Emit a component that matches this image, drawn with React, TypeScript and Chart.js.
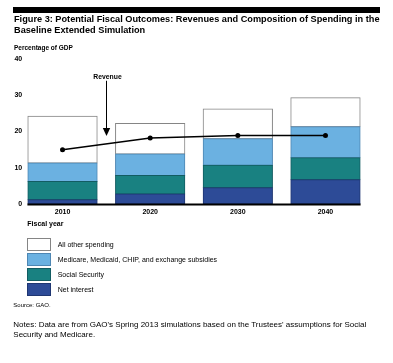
import React, { useEffect, useRef } from "react";
import { Chart, registerables } from "chart.js";

Chart.register(...registerables);

const YEARS = ["2010", "2020", "2030", "2040"];
const NET_INTEREST = [1.2, 2.8, 4.5, 6.7];
const SOCIAL_SECURITY = [5.0, 5.1, 6.2, 6.1];
const HEALTH = [5.1, 5.9, 7.3, 8.5];
const ALL_OTHER = [12.9, 8.4, 8.2, 8.0];
const REVENUE = [15.0, 18.2, 18.9, 18.9];
const Y_TICKS = [0, 10, 20, 30, 40];
const ARROW_FROM = 34;
const ARROW_TO = 18.8;

const C_OTHER = "#ffffff";
const C_HEALTH = "#6bb1e1";
const C_SS = "#198181";
const C_NET = "#2d4b97";
const B_OTHER = "#858585";
const B_HEALTH = "#4d86b3";
const B_SS = "#125c62";
const B_NET = "#1f3672";

const LEGEND = [
  { label: "All other spending", fill: C_OTHER, border: B_OTHER },
  { label: "Medicare, Medicaid, CHIP, and exchange subsidies", fill: C_HEALTH, border: B_HEALTH },
  { label: "Social Security", fill: C_SS, border: B_SS },
  { label: "Net interest", fill: C_NET, border: B_NET },
];

const FONT = '"Liberation Sans", Arial, Helvetica, sans-serif';

function T(props: { x: number; capTop: number; size: number; bold?: boolean; center?: boolean; children: any }) {
  const { x, capTop, size, bold, center, children } = props;
  const lh = size * 1.15;
  const top = capTop - ((lh - 1.117 * size) / 2 + (0.905 - 0.716) * size);
  return (
    <div
      style={{
        position: "absolute",
        left: x,
        top,
        fontSize: size,
        lineHeight: lh + "px",
        fontWeight: bold ? 700 : 400,
        whiteSpace: "nowrap",
        transform: center ? "translateX(-50%)" : undefined,
        fontFamily: FONT,
        color: "#000",
      }}
    >
      {children}
    </div>
  );
}

const extras = {
  id: "extras",
  afterDatasetsDraw(chart: any) {
    const ctx = chart.ctx;
    const y = chart.scales.y;
    const meta = chart.getDatasetMeta(1);
    const bars = meta.data;
    const first = bars[0];
    const last = bars[bars.length - 1];
    const y0 = y.getPixelForValue(0);
    ctx.save();
    // baseline
    ctx.strokeStyle = "#000";
    ctx.lineWidth = 2;
    ctx.beginPath();
    ctx.moveTo(first.x - first.width / 2 - 0.5, y0 + 0.5);
    ctx.lineTo(last.x + last.width / 2 + 0.5, y0 + 0.5);
    ctx.stroke();
    // y tick labels
    ctx.fillStyle = "#000";
    ctx.font = `bold 7px ${FONT}`;
    ctx.textAlign = "right";
    ctx.textBaseline = "middle";
    const lx = chart.chartArea.left + 3.5;
    Y_TICKS.forEach((v) => ctx.fillText(String(v), lx, y.getPixelForValue(v)));
    // revenue arrow
    const ax = Math.round((bars[0].x + bars[1].x) / 2) + 0.5;
    const ya = y.getPixelForValue(ARROW_FROM);
    const yb = y.getPixelForValue(ARROW_TO);
    ctx.lineWidth = 1;
    ctx.beginPath();
    ctx.moveTo(ax, ya);
    ctx.lineTo(ax, yb - 6);
    ctx.stroke();
    ctx.beginPath();
    ctx.moveTo(ax - 3.7, yb - 8);
    ctx.lineTo(ax + 3.7, yb - 8);
    ctx.lineTo(ax, yb);
    ctx.closePath();
    ctx.fill();
    ctx.restore();
  },
};

function ChartBox() {
  const ref = useRef<HTMLCanvasElement | null>(null);
  useEffect(() => {
    if (!ref.current) return;
    const barDs = (label: string, data: number[], fill: string, border: string) => ({
      type: "bar" as const,
      label,
      data,
      backgroundColor: fill,
      borderColor: border,
      borderWidth: 1,
      borderSkipped: false,
      inflateAmount: 0.5,
      stack: "spend",
      order: 1,
      barPercentage: 0.79,
      categoryPercentage: 1,
    });
    const chart = new Chart(ref.current, {
      type: "bar",
      data: {
        labels: YEARS,
        datasets: [
          {
            type: "line",
            label: "Revenue",
            data: REVENUE,
            borderColor: "#000",
            backgroundColor: "#000",
            borderWidth: 1.5,
            pointRadius: 2.5,
            pointBackgroundColor: "#000",
            pointBorderWidth: 0,
            tension: 0,
            stack: "rev",
            order: 0,
          } as any,
          barDs("Net interest", NET_INTEREST, C_NET, B_NET),
          barDs("Social Security", SOCIAL_SECURITY, C_SS, B_SS),
          barDs("Medicare, Medicaid, CHIP, and exchange subsidies", HEALTH, C_HEALTH, B_HEALTH),
          barDs("All other spending", ALL_OTHER, C_OTHER, B_OTHER),
        ],
      },
      options: {
        responsive: false,
        animation: false,
        layout: { padding: { left: 18.7, right: 23.7, top: 59, bottom: 142.5 } },
        plugins: { legend: { display: false }, tooltip: { enabled: false }, title: { display: false } },
        scales: {
          x: {
            stacked: true,
            grid: { display: false, drawTicks: false },
            border: { display: false },
            ticks: { font: { family: FONT, size: 7, weight: "bold" }, color: "#000", padding: 4 },
          },
          y: { display: false, stacked: true, min: 0, max: 40 },
        },
      },
      plugins: [extras],
    });
    return () => chart.destroy();
  }, []);
  return (
    <canvas
      ref={ref}
      width={393}
      height={363}
      style={{ position: "absolute", left: 0, top: 0, width: 393, height: 363 }}
    />
  );
}

export default function App() {
  return (
    <div
      style={{
        position: "absolute",
        left: 0,
        top: 0,
        width: 393,
        height: 363,
        background: "#fff",
        overflow: "hidden",
        fontFamily: FONT,
      }}
    >
      <ChartBox />
      <div style={{ position: "absolute", left: 13, top: 7, width: 367, height: 6, background: "#000" }} />
      <T x={14} capTop={15.7} size={9.2} bold>
        Figure 3: Potential Fiscal Outcomes: Revenues and Composition of Spending in the
      </T>
      <T x={14} capTop={26.9} size={9.2} bold>
        Baseline Extended Simulation
      </T>
      <T x={14} capTop={45.3} size={6.5} bold>
        Percentage of GDP
      </T>
      <T x={107.5} capTop={74.3} size={6.8} bold center>
        Revenue
      </T>
      <T x={27.3} capTop={221.5} size={7} bold>
        Fiscal year
      </T>
      {LEGEND.map((item, i) => {
        const cy = 244.5 + i * 15.15;
        return (
          <React.Fragment key={item.label}>
            <div
              style={{
                position: "absolute",
                left: 27,
                top: cy - 6.5,
                width: 24,
                height: 13,
                boxSizing: "border-box",
                background: item.fill,
                border: `1px solid ${item.border}`,
              }}
            />
            <T x={57.7} capTop={cy - 2.5} size={7}>
              {item.label}
            </T>
          </React.Fragment>
        );
      })}
      <T x={13.3} capTop={303.4} size={6}>
        Source: GAO.
      </T>
      <T x={13.3} capTop={322} size={8}>
        Notes: Data are from GAO's Spring 2013 simulations based on the Trustees' assumptions for Social
      </T>
      <T x={13.3} capTop={331.5} size={8}>
        Security and Medicare.
      </T>
    </div>
  );
}
